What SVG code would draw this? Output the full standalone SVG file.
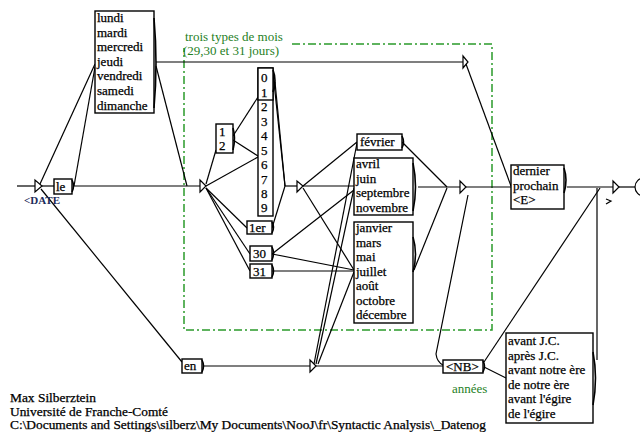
<svg xmlns="http://www.w3.org/2000/svg" width="640" height="432" viewBox="0 0 640 432">
<style>
.box{fill:#fff;stroke:#000;stroke-width:1.4}
.br{fill:none;stroke:#000;stroke-width:1.6}
.t{font-family:"Liberation Serif","Times New Roman",serif;font-size:13px;fill:#000;stroke:#000;stroke-width:0.25}
.s{font-size:12px}
.c{fill:none;stroke:#000;stroke-width:1.2}
.nd{fill:#fff;stroke:#000;stroke-width:1.2}
.grn{fill:none;stroke:#2a9a2a;stroke-width:1.5;stroke-dasharray:8 3 2 3}
.gt{font-family:"Liberation Serif","Times New Roman",serif;font-size:13px;fill:#1f7f1f}
</style>
<rect width="640" height="432" fill="#fff"/>
<g id="frame">
<path class="grn" d="M292,44 H492 V330 H184 V48"/>
<text class="gt" x="185" y="41">trois types de mois</text>
<text class="gt" x="183" y="55">(29,30 et 31 jours)</text>
</g>
<g id="connectors">
<path class="c" d="M17,186 H35"/>
<path class="c" d="M42,186 H54"/>
<path class="c" d="M73,186 H200"/>
<path class="c" d="M40,184 L95,64"/>
<path class="c" d="M74,186 L95,67"/>
<path class="c" d="M156,66 L187,186"/>
<path class="c" d="M156,62 H463"/>
<path class="c" d="M466,64 L511,186"/>
<path class="c" d="M206,184 L216,150"/>
<path class="c" d="M206,186 L258,157"/>
<path class="c" d="M233,136 L258,97"/>
<path class="c" d="M233,140 L258,156"/>
<path class="c" d="M206,188 L247,228"/>
<path class="c" d="M206,188 L250,254"/>
<path class="c" d="M206,188 L250,271"/>
<path class="c" d="M273,73 L285,186"/>
<path class="c" d="M275,82 L285,186"/>
<path class="c" d="M272,228 L285,186"/>
<path class="c" d="M285,186 H297"/>
<path class="c" d="M303,186 L357,142"/>
<path class="c" d="M303,186 H354"/>
<path class="c" d="M303,188 L354,270"/>
<path class="c" d="M272,254 L354,190"/>
<path class="c" d="M272,254 L354,270"/>
<path class="c" d="M272,271 H354"/>
<path class="c" d="M314,364 L357,143"/>
<path class="c" d="M316,364 L354,188"/>
<path class="c" d="M318,364 L354,272"/>
<path class="c" d="M402,142 L447,187"/>
<path class="c" d="M418,187 H460"/>
<path class="c" d="M414,270 L447,188"/>
<path class="c" d="M466,187 H511"/>
<path class="c" d="M468,195 L436,354 Q437,362 443,365"/>
<path class="c" d="M41,189 L182,362"/>
<path class="c" d="M203,366 H310"/>
<path class="c" d="M316,366 H443"/>
<path class="c" d="M484,367 L506,378"/>
<path class="c" d="M484,362 L600,188"/>
<path class="c" d="M597,360 V188"/>
<path class="c" d="M567,187 H613"/>
<path class="c" d="M619,187 H635"/>
<path class="c" d="M606,199 L611,201 L606,204"/>
</g>
<g id="n-init">
<polygon class="nd" points="35,180 35,192 42,186"/>
<text x="24" y="204" font-family="Liberation Serif,serif" font-size="11" font-weight="bold" fill="#1c2b5a">&lt;DATE</text>
</g>
<g id="n-le">
<rect class="box" x="54" y="179" width="18" height="15"/>
<path class="br" d="M72,180 Q75,186 72,192"/>
<text class="t" x="56" y="191">le</text>
</g>
<g id="n-days">
<rect class="box" x="95" y="11" width="59" height="102"/>
<path class="br" d="M154,18 Q158,64 154,108"/>
<text class="t" x="97" y="22">lundi</text>
<text class="t" x="97" y="37">mardi</text>
<text class="t" x="97" y="51">mercredi</text>
<text class="t" x="97" y="66">jeudi</text>
<text class="t" x="97" y="80">vendredi</text>
<text class="t" x="97" y="95">samedi</text>
<text class="t" x="97" y="110">dimanche</text>
</g>
<g id="n-top">
<polygon class="nd" points="463,56 463,68 468,62"/>
</g>
<g id="n-mid1">
<polygon class="nd" points="200,180 200,192 206,186"/>
</g>
<g id="n-12">
<rect class="box" x="216" y="124" width="17" height="29"/>
<path class="br" d="M233,128 Q236,138 233,150"/>
<text class="t" x="219" y="136">1</text>
<text class="t" x="219" y="150">2</text>
</g>
<g id="n-digits">
<rect class="box" x="258" y="68" width="15" height="148"/>
<rect class="box" x="258" y="68" width="15" height="32" fill="none"/>
<path class="br" d="M273,70 Q277,80 273,92"/>
<text class="t" x="261" y="82">0</text>
<text class="t" x="261" y="97">1</text>
<text class="t" x="261" y="111">2</text>
<text class="t" x="261" y="126">3</text>
<text class="t" x="261" y="140">4</text>
<text class="t" x="261" y="155">5</text>
<text class="t" x="261" y="169">6</text>
<text class="t" x="261" y="184">7</text>
<text class="t" x="261" y="198">8</text>
<text class="t" x="261" y="212">9</text>
</g>
<g id="n-1er">
<rect class="box" x="247" y="221" width="25" height="13"/>
<path class="br" d="M272,222 Q275,227 272,233"/>
<text class="t" x="249" y="232">1er</text>
</g>
<g id="n-30">
<rect class="box" x="250" y="246" width="22" height="15"/>
<path class="br" d="M272,247 Q275,253 272,260"/>
<text class="t" x="253" y="258">30</text>
</g>
<g id="n-31">
<rect class="box" x="250" y="264" width="22" height="14"/>
<path class="br" d="M272,265 Q275,271 272,277"/>
<text class="t" x="253" y="276">31</text>
</g>
<g id="n-mid2">
<polygon class="nd" points="297,181 297,192 303,186"/>
</g>
<g id="n-fev">
<rect class="box" x="357" y="134" width="45" height="16"/>
<path class="br" d="M402,136 Q405,142 402,148"/>
<text class="t" x="360" y="146">février</text>
</g>
<g id="n-30j">
<rect class="box" x="354" y="158" width="59" height="57"/>
<path class="br" d="M413,163 Q418,187 413,211"/>
<text class="t" x="356" y="168">avril</text>
<text class="t" x="356" y="183">juin</text>
<text class="t" x="356" y="197">septembre</text>
<text class="t" x="356" y="212">novembre</text>
</g>
<g id="n-31j">
<rect class="box" x="354" y="222" width="59" height="101"/>
<path class="br" d="M413,237 Q418,254 413,272"/>
<text class="t" x="356" y="232">janvier</text>
<text class="t" x="356" y="247">mars</text>
<text class="t" x="356" y="261">mai</text>
<text class="t" x="356" y="276">juillet</text>
<text class="t" x="356" y="290">août</text>
<text class="t" x="356" y="305">octobre</text>
<text class="t" x="356" y="319">décembre</text>
</g>
<g id="n-mid3">
<polygon class="nd" points="460,181 460,193 466,187"/>
</g>
<g id="n-dernier">
<rect class="box" x="511" y="165" width="53" height="44"/>
<path class="br" d="M564,168 Q568,180 564,193"/>
<text class="t" x="513" y="175">dernier</text>
<text class="t" x="513" y="190">prochain</text>
<text class="t" x="513" y="204">&lt;E&gt;</text>
</g>
<g id="n-en">
<rect class="box" x="182" y="359" width="20" height="14"/>
<path class="br" d="M202,360 Q205,366 202,372"/>
<text class="t" x="184" y="370">en</text>
</g>
<g id="n-bot">
<polygon class="nd" points="310,360 310,372 316,366"/>
</g>
<g id="n-nb">
<rect class="box" x="443" y="360" width="40" height="13"/>
<path class="br" d="M483,361 Q486,366 483,372"/>
<text class="t" x="446" y="371">&lt;NB&gt;</text>
<text class="gt" x="452" y="393">années</text>
</g>
<g id="n-era">
<rect class="box" x="506" y="333" width="87" height="90"/>
<path class="br" d="M593,352 Q598,378 593,405"/>
<text class="t" x="508" y="345">avant J.C.</text>
<text class="t" x="508" y="360">après J.C.</text>
<text class="t" x="508" y="374">avant notre ère</text>
<text class="t" x="508" y="389">de notre ère</text>
<text class="t" x="508" y="403">avant l'égire</text>
<text class="t" x="508" y="418">de l'égire</text>
</g>
<g id="n-pre-end">
<polygon class="nd" points="613,181 613,193 619,187"/>
</g>
<g id="n-end">
<circle class="nd" cx="644" cy="187" r="9"/>
</g>
<g id="credits">
<text class="t s" x="10" y="402" textLength="86" lengthAdjust="spacingAndGlyphs">Max Silberztein</text>
<text class="t s" x="10" y="415.5" textLength="158" lengthAdjust="spacingAndGlyphs">Université de Franche-Comté</text>
<text class="t s" x="10" y="429" textLength="476" lengthAdjust="spacingAndGlyphs">C:\Documents and Settings\silberz\My Documents\NooJ\fr\Syntactic Analysis\_Datenog</text>
</g>
</svg>
